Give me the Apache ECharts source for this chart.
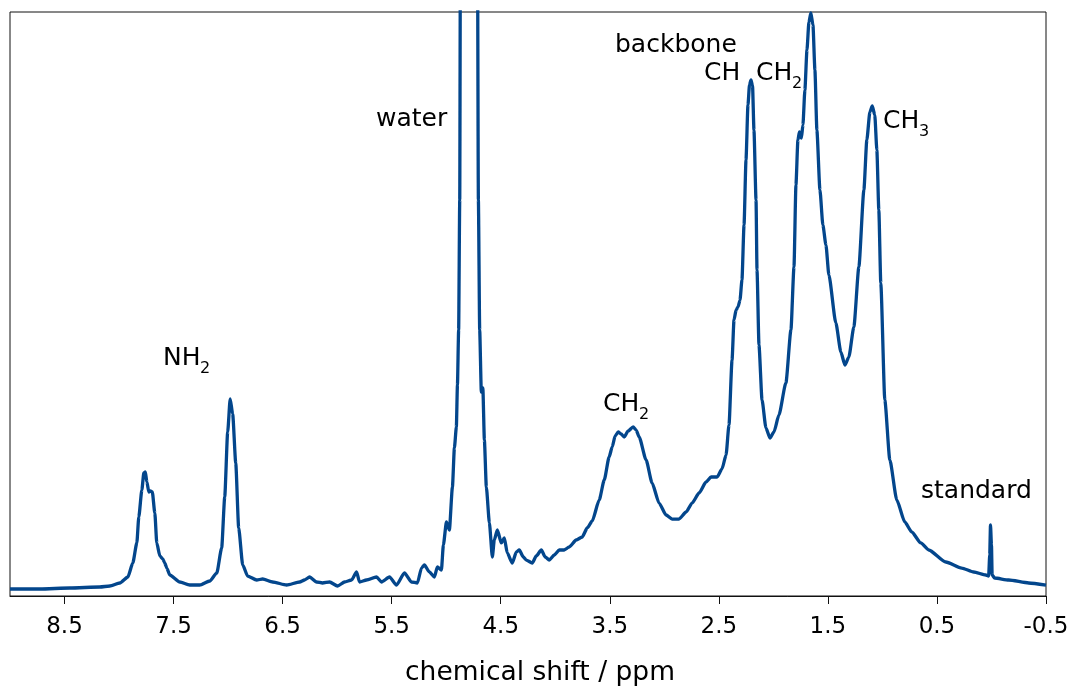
<!DOCTYPE html>
<html>
<head>
<meta charset="utf-8">
<script src="https://cdn.jsdelivr.net/npm/echarts@6/dist/echarts.min.js"></script>
<style>
  html, body { margin: 0; padding: 0; background: #fff; }
  #chart { width: 1074px; height: 688px; }
</style>
</head>
<body>
<div id="chart"></div>
<script>
const shiftPpm = [
  9.000, 8.725, 8.451, 8.176, 8.084, 7.993, 7.919, 7.874, 7.837, 7.819,
  7.791, 7.773, 7.759, 7.745, 7.727, 7.713, 7.695, 7.672, 7.654, 7.626,
  7.599, 7.581, 7.562, 7.535, 7.443, 7.352, 7.260, 7.168, 7.104, 7.059,
  7.031, 7.004, 6.981, 6.958, 6.930, 6.903, 6.866, 6.821, 6.738, 6.683,
  6.592, 6.463, 6.344, 6.299, 6.253, 6.189, 6.134, 6.070, 5.996, 5.932,
  5.868, 5.822, 5.795, 5.731, 5.639, 5.593, 5.520, 5.456, 5.383, 5.319,
  5.264, 5.227, 5.200, 5.154, 5.108, 5.081, 5.044, 5.026, 4.998, 4.971,
  4.943, 4.925, 4.907, 4.897, 4.886, 4.876, 4.867, 4.792, 4.717, 4.705,
  4.693, 4.678, 4.664, 4.650, 4.632, 4.604, 4.577, 4.559, 4.531, 4.495,
  4.467, 4.440, 4.394, 4.357, 4.330, 4.293, 4.266, 4.211, 4.174, 4.128,
  4.092, 4.055, 4.009, 3.963, 3.918, 3.872, 3.808, 3.753, 3.707, 3.661,
  3.597, 3.551, 3.506, 3.478, 3.451, 3.423, 3.396, 3.368, 3.332, 3.286,
  3.258, 3.231, 3.167, 3.112, 3.048, 2.984, 2.929, 2.865, 2.800, 2.745,
  2.681, 2.617, 2.571, 2.516, 2.471, 2.434, 2.407, 2.379, 2.361, 2.342,
  2.324, 2.306, 2.288, 2.269, 2.251, 2.233, 2.219, 2.205, 2.191, 2.178,
  2.159, 2.150, 2.132, 2.104, 2.068, 2.031, 1.995, 1.949, 1.885, 1.839,
  1.811, 1.793, 1.775, 1.761, 1.743, 1.729, 1.711, 1.692, 1.674, 1.656,
  1.637, 1.619, 1.601, 1.573, 1.546, 1.518, 1.491, 1.427, 1.381, 1.344,
  1.308, 1.262, 1.216, 1.170, 1.143, 1.115, 1.093, 1.070, 1.051, 1.033,
  1.015, 0.978, 0.932, 0.868, 0.795, 0.731, 0.648, 0.575, 0.419, 0.273,
  0.163, 0.053, 0.026, 0.016, 0.009, 0.000, -0.006, -0.029, -0.158, -0.341,
  -0.500
];

// intensity (arbitrary units, 100 = top of the frame)
const intensity = [
  1.20, 1.20, 1.37, 1.54, 1.71, 2.23, 3.25, 5.65, 9.08, 13.53,
  18.15, 21.06, 21.23, 19.52, 17.81, 17.98, 17.81, 14.21, 9.08, 6.85,
  6.34, 5.65, 4.79, 3.60, 2.40, 1.88, 1.88, 2.57, 3.94, 8.22,
  16.95, 28.08, 33.73, 31.16, 22.77, 11.64, 5.31, 3.42, 2.74, 2.91,
  2.40, 1.88, 2.40, 2.74, 3.25, 2.40, 2.23, 2.40, 1.71, 2.40,
  2.74, 4.11, 2.40, 2.74, 3.25, 2.40, 3.25, 1.88, 3.94, 2.40,
  2.23, 4.79, 5.31, 4.11, 3.25, 4.97, 4.45, 8.73, 12.67, 11.30,
  18.66, 25.34, 28.94, 36.13, 45.55, 67.81, 136.3, 700.0, 136.3, 67.81,
  45.55, 34.93, 35.62, 26.71, 18.66, 12.50, 6.68, 9.59, 11.30, 9.08,
  9.93, 7.36, 5.65, 7.53, 7.88, 6.68, 6.16, 5.65, 6.85, 7.88,
  6.68, 6.16, 7.02, 7.88, 7.88, 8.39, 9.59, 10.10, 11.64, 12.84,
  16.44, 19.86, 23.80, 25.51, 27.40, 28.08, 27.74, 27.23, 28.25, 28.94,
  28.42, 27.23, 23.29, 19.35, 15.92, 13.87, 13.18, 13.18, 14.38, 15.92,
  17.64, 19.52, 20.38, 20.38, 21.75, 24.14, 29.28, 40.41, 47.26, 48.97,
  49.49, 50.68, 54.11, 63.53, 74.66, 84.08, 87.50, 88.36, 87.33, 79.79,
  67.81, 55.82, 42.98, 33.56, 28.77, 27.05, 28.08, 30.99, 36.47, 45.55,
  56.34, 70.38, 78.08, 79.45, 78.42, 80.65, 86.64, 93.49, 98.29, 99.83,
  97.77, 90.07, 79.79, 69.52, 63.53, 60.10, 54.97, 46.75, 41.78, 39.55,
  40.92, 46.06, 56.34, 69.52, 78.08, 82.88, 83.90, 82.36, 76.37, 66.10,
  53.60, 33.56, 23.29, 16.44, 12.67, 10.96, 9.08, 7.88, 5.82, 4.79,
  4.11, 3.60, 3.42, 7.02, 12.16, 8.73, 3.60, 3.08, 2.74, 2.23,
  1.88
];

const tickValues = [8.5, 7.5, 6.5, 5.5, 4.5, 3.5, 2.5, 1.5, 0.5, -0.5];

const FONT = '"DejaVu Sans", sans-serif';
const LINE_COLOR = '#03468c';

const spectrum = shiftPpm.map((x, i) => [x, intensity[i]]);

// peak labels: [main text, subscript, left x, centre y]
const labels = [
  ['NH', '2', 163, 358],
  ['water', '', 376, 119],
  ['CH', '2', 603, 404],
  ['backbone', '', 615, 45],
  ['CH', '', 704, 73],
  ['CH', '2', 756, 73],
  ['CH', '3', 883, 121],
  ['standard', '', 921, 491]
];

function labelGraphics() {
  const out = [];
  labels.forEach(([txt, sub, x, y]) => {
    out.push({
      type: 'text', silent: true,
      style: { text: txt, x: x, y: y, fill: '#000', fontSize: 25, fontFamily: FONT,
               textAlign: 'left', textVerticalAlign: 'middle' }
    });
    if (sub) {
      const w = txt === 'NH' ? 37 : 36;
      out.push({
        type: 'text', silent: true,
        style: { text: sub, x: x + w, y: y + 11, fill: '#000', fontSize: 16, fontFamily: FONT,
                 textAlign: 'left', textVerticalAlign: 'middle' }
      });
    }
  });
  return out;
}

const chart = echarts.init(document.getElementById('chart'), null, { renderer: 'canvas' });
chart.setOption({
  animation: false,
  backgroundColor: '#fff',
  grid: {
    left: 10, right: 28, top: 12, bottom: 92,
    outerBoundsMode: 'none',
    containLabel: false,
    show: true, borderColor: '#111', borderWidth: 1, backgroundColor: 'transparent'
  },
  xAxis: {
    type: 'value',
    inverse: true,
    min: -0.5,
    max: 9.0,
    name: 'chemical shift / ppm',
    nameLocation: 'middle',
    nameGap: 64,
    nameTextStyle: { fontSize: 26.5, fontFamily: FONT, color: '#000', padding: [0, 0, 0, 24] },
    axisLine: { show: true, onZero: false, lineStyle: { color: '#111', width: 1 } },
    axisTick: { show: true, inside: false, length: 8, lineStyle: { color: '#111', width: 1 },
                customValues: tickValues },
    axisLabel: { show: true, margin: 20, fontSize: 23, fontFamily: FONT, color: '#000',
                 customValues: tickValues,
                 formatter: v => v.toFixed(1) },
    splitLine: { show: false }
  },
  yAxis: {
    type: 'value',
    min: 0,
    max: 100,
    axisLine: { show: false },
    axisTick: { show: false },
    axisLabel: { show: false },
    splitLine: { show: false }
  },
  series: [{
    type: 'line',
    data: spectrum,
    showSymbol: false,
    clip: true,
    smooth: 0.2,
    smoothMonotone: 'x',
    lineStyle: { color: LINE_COLOR, width: 3.3, join: 'round' },
    itemStyle: { color: LINE_COLOR }
  }],
  graphic: labelGraphics()
});
</script>
</body>
</html>
